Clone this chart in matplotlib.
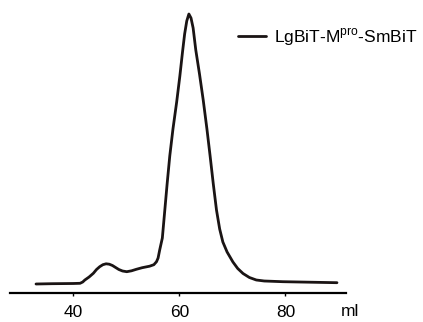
import matplotlib.pyplot as plt

plt.rcParams['font.family'] = ['Liberation Sans', 'DejaVu Sans']
plt.rcParams['mathtext.fontset'] = 'custom'
plt.rcParams['mathtext.rm'] = 'Liberation Sans'

# elution volume (ml) and absorbance (arbitrary units)
volume = [33.0, 36.0, 40.0, 41.3, 41.8, 42.2, 43.0, 43.8, 44.4, 45.0, 45.6,
          46.2, 46.8, 47.4, 48.0, 48.6, 49.3, 50.1, 51.0, 51.9, 53.0, 54.4,
          55.2, 55.7, 56.0, 56.3, 56.8, 57.2, 57.7, 58.2, 58.8, 59.5, 60.1,
          60.6, 61.0, 61.4, 61.8, 62.2, 62.6, 63.1, 63.8, 64.5, 65.2, 65.8,
          66.4, 67.0, 67.6, 68.2, 69.0, 70.1, 71.0, 72.0, 73.2, 74.5, 76.0,
          79.5, 89.7]
absorbance = [0, 0.3, 0.5, 0.7, 2, 4, 7, 10.7, 14.5, 17.3, 19.3,
              20.2, 19.8, 18.5, 16.5, 14.5, 13, 12.3, 13.2, 14.7, 16.3, 17.8,
              19.3, 22.3, 26, 34, 46, 70, 100, 128, 155, 182, 208,
              232, 250, 263, 270, 266, 256, 234, 210, 184, 155, 128,
              100, 74, 55, 42, 32, 22, 15.5, 10.5, 6.5, 4, 3,
              2.3, 1.3]
ticks = [40, 60, 80]
label = 'LgBiT-M$^{\\mathrm{pro}}$-SmBiT'

fig = plt.figure(figsize=(4.23, 3.22), dpi=100)
ax = fig.add_axes([10 / 423, 29 / 322, 336 / 423, 293 / 322])

ax.plot(volume, absorbance, color='#1a1414', lw=2.0, label=label,
        solid_capstyle='round', solid_joinstyle='round')

ax.set_xlim(28.1, 91.4)
ax.set_ylim(-9, 284)
for side in ['top', 'right', 'left']:
    ax.spines[side].set_visible(False)
ax.spines['bottom'].set_linewidth(1.6)
ax.set_yticks([])
ax.set_xticks(ticks)
ax.tick_params(axis='x', direction='out', length=2.5, width=1, labelsize=12.5, pad=6)

fig.text(341 / 423, 1 - 311 / 322, 'ml', fontsize=12.5, va='center')

ax.legend(loc='center left', bbox_to_anchor=(238 / 423, 1 - 37 / 322),
          bbox_transform=fig.transFigure, frameon=False, fontsize=12.5,
          handlelength=1.6, handletextpad=0.45, borderpad=0, borderaxespad=0)

fig.savefig('out.png', dpi=100)
